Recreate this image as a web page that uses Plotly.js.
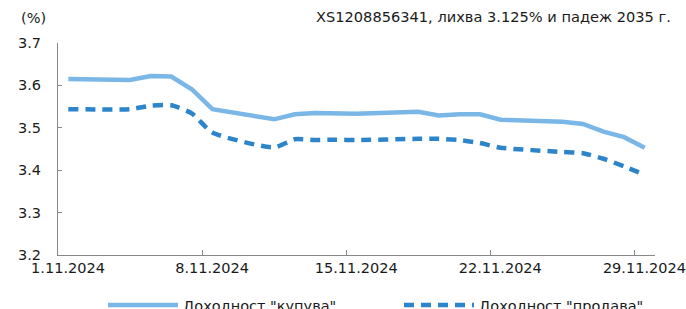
<!DOCTYPE html>
<html>
<head>
<meta charset="utf-8">
<script src="https://cdn.plot.ly/plotly-3.0.1.min.js"></script>
<style>
html,body{margin:0;padding:0;background:#fff;}
#chart{width:686px;height:309px;}
</style>
</head>
<body>
<div id="chart"></div>
<script>
const dates = ['2024-11-01','2024-11-04','2024-11-05','2024-11-06','2024-11-07','2024-11-08',
  '2024-11-11','2024-11-12','2024-11-13','2024-11-14','2024-11-15',
  '2024-11-18','2024-11-19','2024-11-20','2024-11-21','2024-11-22',
  '2024-11-25','2024-11-26','2024-11-27','2024-11-28','2024-11-29'];
const buyYield = [3.615,3.613,3.622,3.621,3.591,3.544,
  3.520,3.532,3.535,3.534,3.533,
  3.538,3.529,3.532,3.532,3.519,
  3.514,3.509,3.491,3.478,3.453];
const sellYield = [3.544,3.544,3.552,3.553,3.534,3.489,
  3.454,3.473,3.471,3.472,3.471,
  3.474,3.474,3.471,3.464,3.453,
  3.443,3.440,3.427,3.409,3.389];
const tickDates = ['2024-11-01','2024-11-08','2024-11-15','2024-11-22','2024-11-29'];
const tickLabels = ['1.11.2024','8.11.2024','15.11.2024','22.11.2024','29.11.2024'];
const seriesNames = ['Доходност "купува"','Доходност "продава"'];
const chartTitle = 'XS1208856341, лихва 3.125% и падеж 2035 г.';
const yUnit = '(%)';

// ticks sit at the start of each day; points are centred within their day
const tickVals = tickDates.map(d => d + ' 00:00');
const pointX = dates.map(d => d + ' 12:00');

const FONT = 'DejaVu Sans, sans-serif';
const TXT = '#1a1a1a';
const traces = [
  {x: pointX, y: buyYield, name: seriesNames[0], type:'scatter', mode:'lines', legend:'legend',
   line:{color:'#7BB7E6', width:4.5}},
  {x: pointX, y: sellYield, name: seriesNames[1], type:'scatter', mode:'lines', legend:'legend2',
   line:{color:'#2C85CA', width:4.5, dash:'10px,7px', shape:'spline', smoothing:0.6}}
];
const legendBase = {orientation:'h', xref:'paper', yref:'paper', y:-0.236, xanchor:'left', yanchor:'middle',
    font:{family:FONT, size:14.5, color:TXT}, itemwidth:70, bgcolor:'rgba(0,0,0,0)'};
const layout = {
  width:686, height:309,
  margin:{l:58, r:31, t:43, b:54, autoexpand:false},
  paper_bgcolor:'#fff', plot_bgcolor:'#fff',
  font:{family:FONT, size:14, color:TXT},
  showlegend:true,
  legend:Object.assign({}, legendBase, {x:(103-58)/597}),
  legend2:Object.assign({}, legendBase, {x:(399-58)/597}),
  xaxis:{type:'date', range:['2024-11-01 00:00','2024-11-30 00:00'], tickvals:tickVals, ticktext:tickLabels,
    ticks:'inside', ticklen:5, tickcolor:'#888', showline:true, linecolor:'#888', linewidth:1,
    showgrid:false, zeroline:false, ticklabelshift:10, tickfont:{family:FONT, size:14.5, color:TXT}},
  yaxis:{range:[3.2,3.7], dtick:0.1, tickformat:'.1f', ticks:'inside', ticklen:4, tickcolor:'#888',
    showline:true, linecolor:'#888', linewidth:1, showgrid:false, zeroline:false, ticklabelstandoff:13,
    tickfont:{family:FONT, size:14.5, color:TXT}},
  annotations:[
    {text:chartTitle, xref:'paper', yref:'paper', x:(673-58)/597, y:1+(43-16)/212, xanchor:'right', yanchor:'middle',
     showarrow:false, font:{family:FONT, size:14.6, color:TXT}},
    {text:yUnit, xref:'paper', yref:'paper', x:(19-58)/597, y:1+(43-18)/212, xanchor:'left', yanchor:'middle',
     showarrow:false, font:{family:FONT, size:14.5, color:TXT}}
  ]
};
Plotly.newPlot('chart', traces, layout, {staticPlot:true, displayModeBar:false});
</script>
</body>
</html>
